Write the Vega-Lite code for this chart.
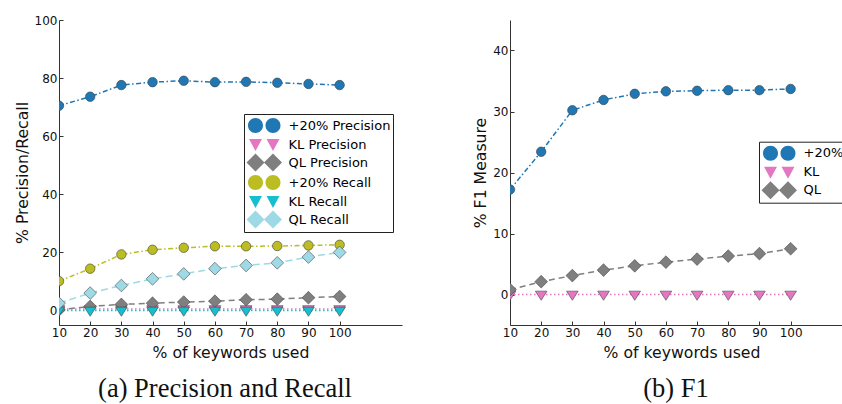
{
  "$schema": "https://vega.github.io/schema/vega-lite/v6.json",
  "background": "white",
  "padding": {"left": 14, "top": 14, "right": 0, "bottom": 0},
  "config": {
    "view": {"stroke": null},
    "axis": {
      "grid": false,
      "domainColor": "#333",
      "domainWidth": 1,
      "tickColor": "#333",
      "tickWidth": 1,
      "tickSize": -4,
      "labelPadding": 6,
      "labelFont": "DejaVu Sans",
      "labelFontSize": 12,
      "labelColor": "#111",
      "labelFlush": false,
      "labelOverlap": false,
      "titleFont": "DejaVu Sans",
      "titleFontSize": 15.7,
      "titleFontWeight": "normal",
      "titleColor": "#111",
      "titlePadding": 4
    },
    "axisX": {"titlePadding": 7},
    "legend": {
      "title": null,
      "padding": 2,
      "symbolSize": 324,
      "symbolOpacity": 1,
      "symbolStrokeWidth": 0.6,
      "symbolStrokeColor": "#444",
      "labelOffset": 23.5,
      "labelFont": "DejaVu Sans",
      "labelFontSize": 13,
      "labelColor": "#000",
      "rowPadding": -1.8,
      "strokeColor": "#222",
      "fillColor": "#fff",
      "cornerRadius": 0
    },
    "title": {
      "font": "Liberation Serif",
      "fontSize": 26.5,
      "fontWeight": "normal",
      "color": "#111"
    }
  },
  "datasets": {
    "pr": [
      {"series": "+20% Precision", "k": 10, "v": 70.5},
      {"series": "+20% Precision", "k": 20, "v": 73.6},
      {"series": "+20% Precision", "k": 30, "v": 77.6},
      {"series": "+20% Precision", "k": 40, "v": 78.6},
      {"series": "+20% Precision", "k": 50, "v": 79.1},
      {"series": "+20% Precision", "k": 60, "v": 78.6},
      {"series": "+20% Precision", "k": 70, "v": 78.7},
      {"series": "+20% Precision", "k": 80, "v": 78.4},
      {"series": "+20% Precision", "k": 90, "v": 78.0},
      {"series": "+20% Precision", "k": 100, "v": 77.6},
      {"series": "KL Precision", "k": 10, "v": 0.5},
      {"series": "KL Precision", "k": 20, "v": 0.5},
      {"series": "KL Precision", "k": 30, "v": 0.5},
      {"series": "KL Precision", "k": 40, "v": 0.5},
      {"series": "KL Precision", "k": 50, "v": 0.5},
      {"series": "KL Precision", "k": 60, "v": 0.5},
      {"series": "KL Precision", "k": 70, "v": 0.5},
      {"series": "KL Precision", "k": 80, "v": 0.5},
      {"series": "KL Precision", "k": 90, "v": 0.5},
      {"series": "KL Precision", "k": 100, "v": 0.5},
      {"series": "QL Precision", "k": 10, "v": 0.2},
      {"series": "QL Precision", "k": 20, "v": 1.4},
      {"series": "QL Precision", "k": 30, "v": 2.1},
      {"series": "QL Precision", "k": 40, "v": 2.5},
      {"series": "QL Precision", "k": 50, "v": 2.9},
      {"series": "QL Precision", "k": 60, "v": 3.2},
      {"series": "QL Precision", "k": 70, "v": 3.7},
      {"series": "QL Precision", "k": 80, "v": 3.9},
      {"series": "QL Precision", "k": 90, "v": 4.4},
      {"series": "QL Precision", "k": 100, "v": 4.8},
      {"series": "+20% Recall", "k": 10, "v": 10.1},
      {"series": "+20% Recall", "k": 20, "v": 14.4},
      {"series": "+20% Recall", "k": 30, "v": 19.3},
      {"series": "+20% Recall", "k": 40, "v": 20.9},
      {"series": "+20% Recall", "k": 50, "v": 21.6},
      {"series": "+20% Recall", "k": 60, "v": 22.1},
      {"series": "+20% Recall", "k": 70, "v": 22.1},
      {"series": "+20% Recall", "k": 80, "v": 22.2},
      {"series": "+20% Recall", "k": 90, "v": 22.4},
      {"series": "+20% Recall", "k": 100, "v": 22.6},
      {"series": "KL Recall", "k": 10, "v": 0},
      {"series": "KL Recall", "k": 20, "v": 0},
      {"series": "KL Recall", "k": 30, "v": 0},
      {"series": "KL Recall", "k": 40, "v": 0},
      {"series": "KL Recall", "k": 50, "v": 0},
      {"series": "KL Recall", "k": 60, "v": 0},
      {"series": "KL Recall", "k": 70, "v": 0},
      {"series": "KL Recall", "k": 80, "v": 0},
      {"series": "KL Recall", "k": 90, "v": 0},
      {"series": "KL Recall", "k": 100, "v": 0},
      {"series": "QL Recall", "k": 10, "v": 2.5},
      {"series": "QL Recall", "k": 20, "v": 6.0},
      {"series": "QL Recall", "k": 30, "v": 8.6},
      {"series": "QL Recall", "k": 40, "v": 10.9},
      {"series": "QL Recall", "k": 50, "v": 12.6},
      {"series": "QL Recall", "k": 60, "v": 14.4},
      {"series": "QL Recall", "k": 70, "v": 15.5},
      {"series": "QL Recall", "k": 80, "v": 16.4},
      {"series": "QL Recall", "k": 90, "v": 18.4},
      {"series": "QL Recall", "k": 100, "v": 20.0}
    ],
    "f1": [
      {"series": "+20%", "k": 10, "v": 17.2},
      {"series": "+20%", "k": 20, "v": 23.4},
      {"series": "+20%", "k": 30, "v": 30.2},
      {"series": "+20%", "k": 40, "v": 31.9},
      {"series": "+20%", "k": 50, "v": 32.9},
      {"series": "+20%", "k": 60, "v": 33.3},
      {"series": "+20%", "k": 70, "v": 33.4},
      {"series": "+20%", "k": 80, "v": 33.5},
      {"series": "+20%", "k": 90, "v": 33.5},
      {"series": "+20%", "k": 100, "v": 33.7},
      {"series": "KL", "k": 10, "v": 0},
      {"series": "KL", "k": 20, "v": 0},
      {"series": "KL", "k": 30, "v": 0},
      {"series": "KL", "k": 40, "v": 0},
      {"series": "KL", "k": 50, "v": 0},
      {"series": "KL", "k": 60, "v": 0},
      {"series": "KL", "k": 70, "v": 0},
      {"series": "KL", "k": 80, "v": 0},
      {"series": "KL", "k": 90, "v": 0},
      {"series": "KL", "k": 100, "v": 0},
      {"series": "QL", "k": 10, "v": 0.8},
      {"series": "QL", "k": 20, "v": 2.1},
      {"series": "QL", "k": 30, "v": 3.1},
      {"series": "QL", "k": 40, "v": 4.0},
      {"series": "QL", "k": 50, "v": 4.7},
      {"series": "QL", "k": 60, "v": 5.3},
      {"series": "QL", "k": 70, "v": 5.8},
      {"series": "QL", "k": 80, "v": 6.3},
      {"series": "QL", "k": 90, "v": 6.7},
      {"series": "QL", "k": 100, "v": 7.5}
    ]
  },
  "spacing": 70,
  "resolve": {"scale": {"color": "independent", "shape": "independent", "strokeDash": "independent"}},
  "hconcat": [
    {
      "width": 343,
      "height": 305,
      "data": {"name": "pr"},
      "title": {"text": "(a) Precision and Recall", "orient": "bottom", "frame": "group", "anchor": "middle", "dx": -5.5, "offset": 16},
      "encoding": {
        "x": {"field": "k", "type": "quantitative", "scale": {"domain": [10, 120], "nice": false, "zero": false}, "axis": {"values": [10, 20, 30, 40, 50, 60, 70, 80, 90, 100], "title": "% of keywords used"}},
        "y": {"field": "v", "type": "quantitative", "scale": {"domain": [-5, 100], "nice": false, "zero": false}, "axis": {"values": [0, 20, 40, 60, 80, 100], "title": "% Precision/Recall"}}
      },
      "resolve": {"scale": {"color": "independent", "shape": "independent"}},
      "layer": [
        {
          "transform": [{"filter": "false"}],
          "mark": {"type": "point", "filled": true, "opacity": 1, "size": 100, "stroke": "#444", "strokeWidth": 0.6, "clip": true},
          "encoding": {
            "color": {"field": "series", "type": "nominal", "scale": {"domain": ["+20% Precision", "KL Precision", "QL Precision", "+20% Recall", "KL Recall", "QL Recall"], "range": ["#1f77b4", "#e377c2", "#7f7f7f", "#bcbd22", "#17becf", "#9edae5"]},
              "legend": {"orient": "none", "legendX": 185, "legendY": 94}},
            "shape": {"field": "series", "type": "nominal", "scale": {"domain": ["+20% Precision", "KL Precision", "QL Precision", "+20% Recall", "KL Recall", "QL Recall"], "range": [
              "M-0.833,0A0.833,0.833,0,1,0,0.833,0A0.833,0.833,0,1,0,-0.833,0ZM1.111,0A0.833,0.833,0,1,0,2.777,0A0.833,0.833,0,1,0,1.111,0Z",
              "M-0.72,-0.6L0.72,-0.6L0,0.73ZM1.224,-0.6L2.664,-0.6L1.944,0.73Z",
              "M-1,0L0,-1L1,0L0,1ZM0.944,0L1.944,-1L2.944,0L1.944,1Z",
              "M-0.833,0A0.833,0.833,0,1,0,0.833,0A0.833,0.833,0,1,0,-0.833,0ZM1.111,0A0.833,0.833,0,1,0,2.777,0A0.833,0.833,0,1,0,1.111,0Z",
              "M-0.72,-0.6L0.72,-0.6L0,0.73ZM1.224,-0.6L2.664,-0.6L1.944,0.73Z",
              "M-1,0L0,-1L1,0L0,1ZM0.944,0L1.944,-1L2.944,0L1.944,1Z"]},
              "legend": {"orient": "none", "legendX": 185, "legendY": 94}}
          }
        },
        {
          "mark": {"type": "line", "strokeWidth": 1.5, "clip": true},
          "encoding": {
            "color": {"field": "series", "type": "nominal", "scale": {"domain": ["+20% Precision", "KL Precision", "QL Precision", "+20% Recall", "KL Recall", "QL Recall"], "range": ["#1f77b4", "#e377c2", "#7f7f7f", "#bcbd22", "#17becf", "#9edae5"]}, "legend": null},
            "strokeDash": {"field": "series", "type": "nominal", "scale": {"domain": ["+20% Precision", "KL Precision", "QL Precision", "+20% Recall", "KL Recall", "QL Recall"], "range": [[5, 2.5, 1.5, 2.5], [1.5, 2.5], [6, 4], [5, 2.5, 1.5, 2.5], [1.5, 2.5], [7, 4]]}, "legend": null}
          }
        },
        {
          "mark": {"type": "point", "filled": true, "opacity": 1, "size": 100, "stroke": "#444", "strokeWidth": 0.6, "clip": true},
          "encoding": {
            "color": {"field": "series", "type": "nominal", "scale": {"domain": ["+20% Precision", "KL Precision", "QL Precision", "+20% Recall", "KL Recall", "QL Recall"], "range": ["#1f77b4", "#e377c2", "#7f7f7f", "#bcbd22", "#17becf", "#9edae5"]}, "legend": null},
            "shape": {"field": "series", "type": "nominal", "scale": {"domain": ["+20% Precision", "KL Precision", "QL Precision", "+20% Recall", "KL Recall", "QL Recall"], "range": ["M-0.95,0A0.95,0.95,0,1,0,0.95,0A0.95,0.95,0,1,0,-0.95,0Z", "M-1.16,-0.67L1.16,-0.67L0,1.16Z", "M-1.27,0L0,-1.27L1.27,0L0,1.27Z", "M-0.95,0A0.95,0.95,0,1,0,0.95,0A0.95,0.95,0,1,0,-0.95,0Z", "M-1.16,-0.67L1.16,-0.67L0,1.16Z", "M-1.27,0L0,-1.27L1.27,0L0,1.27Z"]}, "legend": null}
          }
        }
      ]
    },
    {
      "width": 343,
      "height": 305,
      "data": {"name": "f1"},
      "title": {"text": "(b) F1", "orient": "bottom", "frame": "group", "anchor": "middle", "dx": -5.5, "offset": 16},
      "encoding": {
        "x": {"field": "k", "type": "quantitative", "scale": {"domain": [10, 120], "nice": false, "zero": false}, "axis": {"values": [10, 20, 30, 40, 50, 60, 70, 80, 90, 100], "title": "% of keywords used"}},
        "y": {"field": "v", "type": "quantitative", "scale": {"domain": [-5, 45], "nice": false, "zero": false}, "axis": {"values": [0, 10, 20, 30, 40], "title": "% F1 Measure"}}
      },
      "resolve": {"scale": {"color": "independent", "shape": "independent"}},
      "layer": [
        {
          "transform": [{"filter": "false"}],
          "mark": {"type": "point", "filled": true, "opacity": 1, "size": 100, "stroke": "#444", "strokeWidth": 0.6, "clip": true},
          "encoding": {
            "color": {"field": "series", "type": "nominal", "scale": {"domain": ["+20%", "KL", "QL"], "range": ["#1f77b4", "#e377c2", "#7f7f7f"]},
              "legend": {"orient": "none", "legendX": 249, "legendY": 121.7}},
            "shape": {"field": "series", "type": "nominal", "scale": {"domain": ["+20%", "KL", "QL"], "range": [
              "M-0.833,0A0.833,0.833,0,1,0,0.833,0A0.833,0.833,0,1,0,-0.833,0ZM1.111,0A0.833,0.833,0,1,0,2.777,0A0.833,0.833,0,1,0,1.111,0Z",
              "M-0.72,-0.6L0.72,-0.6L0,0.73ZM1.224,-0.6L2.664,-0.6L1.944,0.73Z",
              "M-1,0L0,-1L1,0L0,1ZM0.944,0L1.944,-1L2.944,0L1.944,1Z"]},
              "legend": {"orient": "none", "legendX": 249, "legendY": 121.7}}
          }
        },
        {
          "mark": {"type": "line", "strokeWidth": 1.5, "clip": true},
          "encoding": {
            "color": {"field": "series", "type": "nominal", "scale": {"domain": ["+20%", "KL", "QL"], "range": ["#1f77b4", "#e377c2", "#7f7f7f"]}, "legend": null},
            "strokeDash": {"field": "series", "type": "nominal", "scale": {"domain": ["+20%", "KL", "QL"], "range": [[5, 2.5, 1.5, 2.5], [1.5, 2.5], [6, 4]]}, "legend": null}
          }
        },
        {
          "mark": {"type": "point", "filled": true, "opacity": 1, "size": 100, "stroke": "#444", "strokeWidth": 0.6, "clip": true},
          "encoding": {
            "color": {"field": "series", "type": "nominal", "scale": {"domain": ["+20%", "KL", "QL"], "range": ["#1f77b4", "#e377c2", "#7f7f7f"]}, "legend": null},
            "shape": {"field": "series", "type": "nominal", "scale": {"domain": ["+20%", "KL", "QL"], "range": ["M-0.95,0A0.95,0.95,0,1,0,0.95,0A0.95,0.95,0,1,0,-0.95,0Z", "M-1.16,-0.67L1.16,-0.67L0,1.16Z", "M-1.27,0L0,-1.27L1.27,0L0,1.27Z"]}, "legend": null}
          }
        }
      ]
    }
  ]
}
